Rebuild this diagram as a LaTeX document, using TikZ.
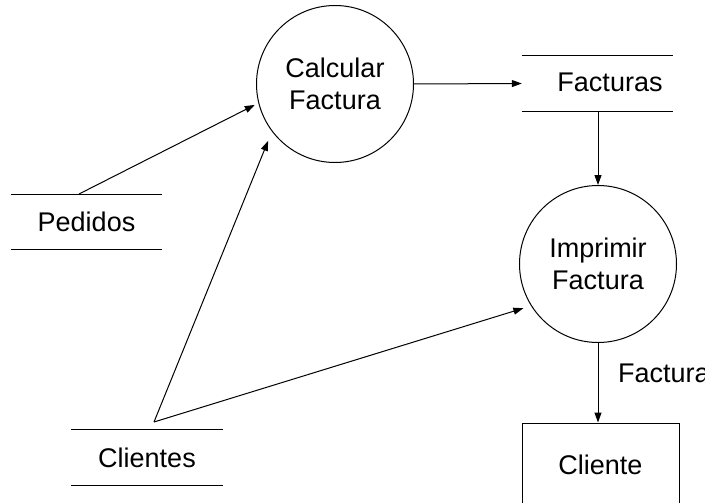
\documentclass[tikz,border=0pt]{standalone}
\usepackage{fontspec}
\setmainfont{Liberation Sans}
\usetikzlibrary{arrows.meta}
\begin{document}
\begin{tikzpicture}[x=1pt,y=-1pt,
  every node/.style={font=\fontsize{27}{32}\selectfont, inner sep=0pt},
  process/.style={draw, circle, line width=1pt, minimum size=157pt, align=center},
  storebox/.style={minimum width=151pt, minimum height=55pt},
  entity/.style={draw, rectangle, line width=1pt, minimum width=157pt, minimum height=84pt},
  flow/.style={line width=1pt, -{Triangle[length=10pt,width=7pt]}},
  rule/.style={line width=1pt}]
  \useasboundingbox (0,0) rectangle (705,503);
  \clip (0,0) rectangle (705,503);

  % processes
  \node[process] (calc) at (335,84) {Calcular\\Factura};
  \node[process] (impr) at (598,264) {Imprimir\\Factura};

  % data stores: open boxes with a rule above and below
  \node[storebox] (fact) at (597.5,83.5) {};
  \node (factlbl) at (610,82) {Facturas};
  \node[storebox] (ped) at (86.5,222) {Pedidos};
  \node[storebox] (cli) at (147,457.5) {Clientes};
  \foreach \s in {fact,ped,cli}{
    \draw[rule] (\s.north west) -- (\s.north east);
    \draw[rule] (\s.south west) -- (\s.south east);
  }

  % external entity
  \node[entity] (cte) at (600.5,465) {Cliente};

  % connector origins on the store rules
  \coordinate (pedout) at (79,194);
  \coordinate (cliout) at (154,422);

  % data flows
  \draw[flow] (calc.east) -- (fact.west);
  \draw[flow] (fact.south -| impr.north) -- (impr.north);
  \draw[flow] (impr.south) -- (impr.south |- cte.north);
  \draw[flow, shorten >=4pt] (pedout) -- (calc.194);
  \draw[flow, shorten >=10pt] (cliout) -- (calc.217);
  \draw[flow, shorten >=8pt] (cliout) -- (impr.212);

  % flow label
  \node[anchor=base west] (flbl) at (618,382) {Factura};
\end{tikzpicture}
\end{document}
